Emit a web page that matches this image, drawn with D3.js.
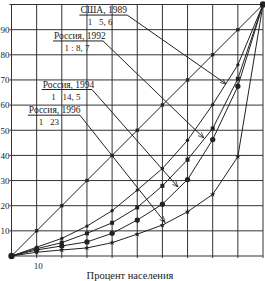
<!DOCTYPE html>
<html>
<head>
<meta charset="utf-8">
<script src="https://cdn.jsdelivr.net/npm/d3@7"></script>
<style>
  body { margin: 0; background: #fff; }
  svg text { font-family: "Liberation Serif", "DejaVu Serif", serif; fill: #222; }
</style>
</head>
<body>
<svg id="chart" width="265" height="281"></svg>
<script>
// population share (x) and income share (y), Lorenz curves
var popShare = [0, 10, 20, 30, 40, 50, 60, 70, 80, 90, 100];
var usa1989   = [0, 3.5, 7.0, 11.9, 18.0, 26.2, 34.8, 46.0, 60.2, 76.0, 100];
var rus1992   = [0, 2.9, 5.3, 9.0, 13.2, 19.3, 27.9, 38.3, 50.7, 70.5, 100];
var rus1994   = [0, 2.4, 4.0, 5.6, 9.0, 14.3, 20.6, 30.4, 46.3, 67.5, 100];
var rus1996   = [0, 1.5, 2.4, 3.2, 5.3, 8.7, 12.3, 17.6, 24.5, 39.5, 100];
var yTicks = [10, 20, 30, 40, 50, 60, 70, 80, 90];
var xTicks = [10];
var gridVals = [0, 10, 20, 30, 40, 50, 60, 70, 80, 90, 100];

// labels: title, ratio, underline start/end (x, y in data units), arrow tip on curve
var labelTitles = ['США, 1989', 'Россия, 1992', 'Россия, 1994', 'Россия, 1996'];
var labelRatios = ['1   5, 6', '1 : 8, 7', '1   14, 5', '1   23'];
var labelStartX = [27, 16.5, 12, 6.5];
var labelEndX   = [46, 36.4, 32, 27.2];
var labelY      = [95.8, 85.5, 66.2, 56.0];
var ratioX      = [35.2, 26.0, 21.6, 14.9];
var tipX        = [85.3, 76.5, 66.2, 61.1];
var tipY        = [68.4, 46.9, 27.4, 13.3];

var svg = d3.select('#chart');
var x = d3.scaleLinear().domain([0, 100]).range([11.5, 263]);
var y = d3.scaleLinear().domain([0, 100]).range([256, 4.5]);
var ink = '#222';

// grid
svg.append('g').selectAll('line.v')
  .data(gridVals).enter().append('line')
  .attr('x1', function(d){ return x(d); }).attr('x2', function(d){ return x(d); })
  .attr('y1', y(0) + 2).attr('y2', y(100))
  .attr('stroke', '#333').attr('stroke-width', 1);
svg.append('g').selectAll('line.h')
  .data(gridVals).enter().append('line')
  .attr('x1', x(0) - 2).attr('x2', x(100))
  .attr('y1', function(d){ return y(d); }).attr('y2', function(d){ return y(d); })
  .attr('stroke', '#333').attr('stroke-width', 1);

// axes labels
var yAxis = svg.append('g')
  .attr('transform', 'translate(' + x(0) + ',0)')
  .call(d3.axisLeft(y).tickValues(yTicks).tickSize(0).tickPadding(2));
yAxis.select('.domain').remove();
yAxis.selectAll('text').style('font-size', '9px').style('font-family', '"Liberation Serif", serif').attr('fill', ink);

var xAxis = svg.append('g')
  .attr('transform', 'translate(0,' + y(0) + ')')
  .call(d3.axisBottom(x).tickValues(xTicks).tickSize(0).tickPadding(7));
xAxis.select('.domain').remove();
xAxis.selectAll('text').style('font-size', '9px').style('font-family', '"Liberation Serif", serif').attr('fill', ink)
  .attr('dx', '1');

svg.append('text')
  .attr('x', 130).attr('y', 279)
  .attr('text-anchor', 'middle')
  .style('font-size', '10.5px')
  .text('Процент населения');

// equality line
var line = d3.line()
  .x(function(d){ return x(d[0]); })
  .y(function(d){ return y(d[1]); });

svg.append('path')
  .datum(popShare.map(function(p){ return [p, p]; }))
  .attr('d', line).attr('fill', 'none').attr('stroke', ink).attr('stroke-width', 1);
svg.append('g').selectAll('path')
  .data(popShare.slice(1, 10)).enter().append('path')
  .attr('d', d3.symbol().type(d3.symbolCross).size(10))
  .attr('transform', function(d){ return 'translate(' + x(d) + ',' + y(d) + ') rotate(45)'; })
  .attr('fill', ink);

// lorenz curves
var series = [
  { vals: usa1989, sym: d3.symbolCircle, size: 9 },
  { vals: rus1992, sym: d3.symbolSquare, size: 16 },
  { vals: rus1994, sym: d3.symbolCircle, size: 22 },
  { vals: rus1996, sym: d3.symbolStar, size: 10 }
];

series.forEach(function(s){
  var pts = popShare.map(function(p, i){ return [p, s.vals[i]]; });
  svg.append('path')
    .datum(pts)
    .attr('d', line).attr('fill', 'none').attr('stroke', ink).attr('stroke-width', 1);
  svg.append('g').selectAll('path')
    .data(pts.slice(1, 10)).enter().append('path')
    .attr('d', d3.symbol().type(s.sym).size(s.size))
    .attr('transform', function(d){ return 'translate(' + x(d[0]) + ',' + y(d[1]) + ')'; })
    .attr('fill', ink);
});

// end points
svg.append('g').selectAll('circle')
  .data([0, 100]).enter().append('circle')
  .attr('cx', function(d){ return x(d); }).attr('cy', function(d){ return y(d); })
  .attr('r', 3.2).attr('fill', ink);

// arrowhead
svg.append('defs').append('marker')
  .attr('id', 'arr').attr('viewBox', '0 0 10 10')
  .attr('refX', 10).attr('refY', 5)
  .attr('markerWidth', 6).attr('markerHeight', 6)
  .attr('orient', 'auto')
  .append('path').attr('d', 'M0,1 L10,5 L0,9')
  .attr('fill', 'none').attr('stroke', ink).attr('stroke-width', 1.2);

// annotations
labelTitles.forEach(function(t, i){
  var ly = y(labelY[i]);
  svg.append('text')
    .attr('x', x(labelStartX[i]) + 1).attr('y', ly - 2)
    .style('font-size', '9.5px')
    .text(t);
  svg.append('text')
    .attr('x', x(ratioX[i])).attr('y', ly + 10)
    .attr('text-anchor', 'middle')
    .style('font-size', '9px')
    .style('white-space', 'pre')
    .text(labelRatios[i]);
  svg.append('path')
    .attr('d', 'M' + x(labelStartX[i]) + ',' + ly + 'L' + x(labelEndX[i]) + ',' + ly +
      'L' + x(tipX[i]) + ',' + y(tipY[i]))
    .attr('fill', 'none').attr('stroke', ink).attr('stroke-width', 1)
    .attr('marker-end', 'url(#arr)');
});
</script>
</body>
</html>
